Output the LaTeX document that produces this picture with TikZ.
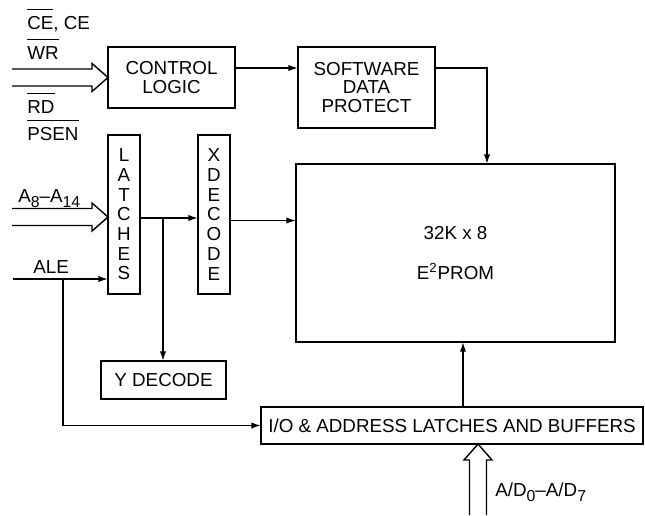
\documentclass[tikz,border=0pt]{standalone}
\usepackage{fontspec}
\setmainfont{Liberation Sans}
\usetikzlibrary{calc, arrows.meta}

% active-low signal name
\newcommand{\barsig}[1]{\setbox0=\hbox{#1}\rlap{\rule[11pt]{\wd0}{0.6pt}}\box0}
% low index on pin names
\newcommand{\pinsub}[1]{\raisebox{-3.3pt}{\fontsize{9}{9}\selectfont #1}}

\begin{document}
\begin{tikzpicture}[x=0.02cm, y=-0.02cm,
        font=\fontsize{10.7}{10.4}\selectfont,
        blk/.style={draw, line width=1.5pt, outer sep=0pt, inner sep=0pt, align=center},
        vblk/.style={blk, minimum width=0.64cm, minimum height=3.18cm, font=\fontsize{10.7}{11.2}\selectfont},
        lbl/.style={anchor=base west, inner sep=0pt},
        wire/.style={line width=0.9pt, -{Latex[length=5.5pt, width=3.6pt]}},
        bus/.pic={\draw[line width=0.8pt] (-#1,-8.5) -- (-16,-8.5) -- (-16,-14) -- (0,0) -- (-16,14) -- (-16,8.5) -- (-#1,8.5);}]
    \useasboundingbox (0,0) rectangle (645,515);

    % blocks
    \node[blk, minimum width=2.54cm, minimum height=1.22cm] (ctrl) at (171.5,77.5) {CONTROL\\LOGIC};
    \node[blk, minimum width=2.74cm, minimum height=1.62cm] (sdp) at (366.5,87.5) {SOFTWARE\\DATA\\PROTECT};
    \node[blk, minimum width=6.38cm, minimum height=3.56cm] (eprom) at (455.5,253) {32K x 8\\[12pt]E\textsuperscript{2}PROM};
    \node[vblk] (latch) at (124,214.5) {L\\A\\T\\C\\H\\E\\S};
    \node[vblk] (xdec) at (214,214.5) {X\\D\\E\\C\\O\\D\\E};
    \node[blk, minimum width=2.5cm, minimum height=0.76cm] (ydec) at (163.5,380) {Y DECODE};
    \node[blk, minimum width=7.64cm, minimum height=0.74cm] (io) at (452,425.5) {I/O \& ADDRESS LATCHES AND BUFFERS};

    % control inputs
    \node[lbl] (cel) at (27,29) {\barsig{CE}, CE};
    \node[lbl] (wrl) at (27,59) {\barsig{WR}};
    \node[lbl] (rdl) at (27,113) {\barsig{RD}};
    \node[lbl] (psl) at (27,140) {\barsig{PSEN}};
    \pic at (ctrl.west) {bus=96};

    % address inputs
    \node[lbl] (adl) at (18,202) {A\pinsub{8}--A\pinsub{14}};
    \pic at ($(latch.west)+(0,2.5)$) {bus=96};
    \node[lbl] (alel) at (33,273) {ALE};
    \coordinate (ale) at (13,279);
    \coordinate (alebr) at (63,279);
    \draw[wire] (ale) -- (ale -| latch.west);
    \draw[wire] (alebr) |- (io.west);

    % data bus
    \pic[rotate=90] at ($(io.south)+(26,0)$) {bus=71};
    \node[lbl] (dl) at (495,496) {A/D\pinsub{0}--A/D\pinsub{7}};

    % connections
    \draw[wire] (ctrl.east) ++(0,-9.5) coordinate (cs) -- (cs -| sdp.west);
    \draw[wire] (sdp.east) ++(0,-19.5) -| ($(eprom.north)+(31.5,0)$);
    \draw[wire] (latch.east) ++(0,3.5) coordinate (lx) -- (lx -| xdec.west);
    \coordinate (br) at ($(lx)+(23,0)$);
    \draw[wire] (br) -- (br |- ydec.north);
    \draw[wire] (xdec.east) ++(0,6) coordinate (xe) -- (xe -| eprom.west);
    \draw[wire] (io.north) ++(11,0) coordinate (ie) -- (ie |- eprom.south);
\end{tikzpicture}
\end{document}
